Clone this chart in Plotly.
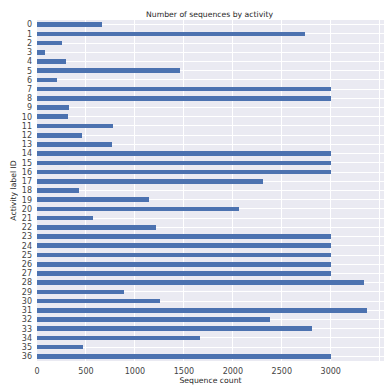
import plotly.graph_objects as go

activity_ids = list(range(37))
sequence_counts = [662, 2734, 256, 85, 297, 1457, 205, 3000, 3000, 328,
                   317, 775, 461, 761, 3000, 3000, 3000, 2304, 433, 1143,
                   2061, 570, 1212, 3000, 3000, 3000, 3000, 3000, 3338, 891,
                   1256, 3375, 2382, 2809, 1669, 474, 3000]
x_ticks = [0, 500, 1000, 1500, 2000, 2500, 3000, 3500]

fig = go.Figure(go.Bar(
    x=sequence_counts, y=activity_ids, orientation="h",
    width=0.5, marker=dict(color="#4C72B0", line=dict(width=0)),
))

font = "DejaVu Sans, sans-serif"
fig.update_layout(
    width=388, height=386,
    margin=dict(l=37, r=4, t=20, b=20),
    paper_bgcolor="white", plot_bgcolor="#EAEAF2",
    showlegend=False,
    font=dict(family=font, size=8, color="#262626"),
    title=dict(text="Number of sequences by activity", x=0.54, xanchor="center",
               y=1 - 14/386, yanchor="middle", font=dict(size=7.7, color="#262626")),
    bargap=0,
)
fig.update_xaxes(
    range=[0, 3544], tickvals=x_ticks, ticktext=[str(v) for v in x_ticks],
    showgrid=True, gridcolor="white", gridwidth=1, zeroline=False,
    showline=False, ticks="", ticklabelstandoff=4,
    title=dict(text="Sequence count", standoff=1, font=dict(size=7.7)),
    tickfont=dict(size=8, color="#444444"),
)
fig.update_yaxes(
    range=[36.5, -0.5], tickvals=activity_ids, ticktext=[str(v) for v in activity_ids],
    showgrid=True, gridcolor="white", gridwidth=1, zeroline=False,
    showline=False, ticks="", ticklabelstandoff=4,
    title=dict(text="Activity label ID", standoff=4, font=dict(size=7.7)),
    tickfont=dict(size=8, color="#444444"),
)
fig.write_html("out.html")
